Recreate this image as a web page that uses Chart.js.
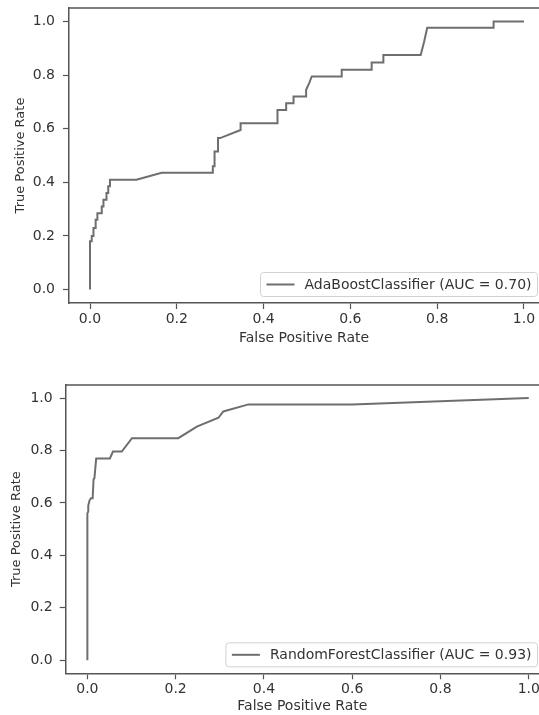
<!DOCTYPE html>
<html>
<head>
<meta charset="utf-8">
<script src="https://cdn.jsdelivr.net/npm/chart.js@4.4.0/dist/chart.umd.min.js"></script>
<style>
  html, body { margin: 0; padding: 0; background: #fff; }
  body { width: 539px; height: 715px; position: relative; overflow: hidden; }
  .panel { position: absolute; left: 0; }
  canvas { display: block; }
</style>
</head>
<body>
<div class="panel" style="top:0"><canvas id="rocAda" width="539" height="350"></canvas></div>
<div class="panel" style="top:365px"><canvas id="rocRf" width="539" height="350"></canvas></div>
<script>
// ROC curve of the AdaBoost model
const adaLabel = 'AdaBoostClassifier (AUC = 0.70)';
const adaFpr = [0, 0, 0.004, 0.004, 0.008, 0.008, 0.013, 0.013, 0.017, 0.017,
  0.027, 0.027, 0.031, 0.031, 0.038, 0.038, 0.042, 0.042, 0.046, 0.046,
  0.107, 0.165, 0.283, 0.283, 0.287, 0.287, 0.295, 0.295, 0.300, 0.347,
  0.347, 0.432, 0.432, 0.452, 0.452, 0.469, 0.469, 0.498, 0.498, 0.505,
  0.511, 0.580, 0.580, 0.649, 0.649, 0.676, 0.676, 0.762, 0.766, 0.770,
  0.777, 0.930, 0.930, 1.0];
const adaTpr = [0, 0.18, 0.18, 0.20, 0.20, 0.23, 0.23, 0.26, 0.26, 0.285,
  0.285, 0.31, 0.31, 0.335, 0.335, 0.36, 0.36, 0.385, 0.385, 0.41,
  0.41, 0.436, 0.436, 0.46, 0.46, 0.515, 0.515, 0.565, 0.565, 0.595,
  0.62, 0.62, 0.67, 0.67, 0.695, 0.695, 0.72, 0.72, 0.745, 0.77,
  0.795, 0.795, 0.82, 0.82, 0.847, 0.847, 0.875, 0.875, 0.90, 0.925,
  0.976, 0.976, 1.0, 1.0];

// ROC curve of the random forest model
const rfLabel = 'RandomForestClassifier (AUC = 0.93)';
const rfFpr = [0, 0, 0.002, 0.002, 0.005, 0.008, 0.012, 0.014, 0.016, 0.020,
  0.051, 0.058, 0.078, 0.101, 0.206, 0.248, 0.297, 0.308, 0.365, 0.60, 1.0];
const rfTpr = [0, 0.56, 0.567, 0.59, 0.61, 0.618, 0.618, 0.69, 0.695, 0.77,
  0.77, 0.796, 0.796, 0.847, 0.847, 0.891, 0.925, 0.949, 0.976, 0.976, 1.0];

const tickValues = [0, 0.2, 0.4, 0.6, 0.8, 1.0];

const FONT = '"DejaVu Sans", "Liberation Sans", sans-serif';
const TEXT = '#333';
const FRAME = '#555';
const LINE = '#6e6e6e';

// top edge of the axes box plus the matplotlib-style legend in the lower right
const rocFrame = {
  id: 'rocFrame',
  afterDraw(chart) {
    const { ctx, chartArea: a } = chart;
    ctx.save();
    ctx.strokeStyle = FRAME;
    ctx.lineWidth = 1.5;
    ctx.beginPath();
    ctx.moveTo(a.left, a.top);
    ctx.lineTo(a.right, a.top);
    ctx.stroke();

    const ds = chart.data.datasets[0];
    ctx.font = '14px ' + FONT;
    const tw = ctx.measureText(ds.label).width;
    const h = 24, w = 6 + 28 + 10 + tw + 6;
    const x = a.right - 1.5 - w, y = a.bottom - 6.5 - h;
    ctx.beginPath();
    ctx.roundRect(x, y, w, h, 3);
    ctx.fillStyle = 'rgba(255,255,255,0.9)';
    ctx.fill();
    ctx.strokeStyle = '#d2d2d2';
    ctx.lineWidth = 1;
    ctx.stroke();
    ctx.beginPath();
    ctx.moveTo(x + 6, y + h / 2);
    ctx.lineTo(x + 34, y + h / 2);
    ctx.strokeStyle = ds.borderColor;
    ctx.lineWidth = 2;
    ctx.stroke();
    ctx.fillStyle = TEXT;
    ctx.textBaseline = 'middle';
    ctx.fillText(ds.label, x + 44, y + h / 2 + 1);
    ctx.restore();
  }
};

function setTicks(scale) {
  scale.ticks = tickValues.map(v => ({ value: v }));
}

function renderRoc(canvasId, fpr, tpr, label, g) {
  const ctx = document.getElementById(canvasId);
  return new Chart(ctx, {
    type: 'scatter',
    data: {
      datasets: [{
        label: label,
        data: fpr.map((x, i) => ({ x: x, y: tpr[i] })),
        showLine: true,
        borderColor: LINE,
        borderWidth: 2,
        pointRadius: 0,
        tension: 0,
        fill: false
      }]
    },
    options: {
      responsive: false,
      animation: false,
      devicePixelRatio: 1,
      layout: { padding: { top: g.top, left: 0, right: 0, bottom: 0 } },
      plugins: { legend: { display: false }, tooltip: { enabled: false } },
      scales: {
        x: {
          type: 'linear',
          min: g.xMin,
          max: g.xMax,
          afterBuildTicks: setTicks,
          afterFit: s => { s.height = g.xAxisH; s.paddingLeft = 0; s.paddingRight = 0; },
          grid: { drawOnChartArea: false, tickLength: 6, tickColor: FRAME, tickWidth: 1.2 },
          border: { display: true, color: FRAME, width: 1.5 },
          ticks: {
            autoSkip: false, maxRotation: 0, padding: 2,
            color: TEXT, font: { family: FONT, size: 14 },
            callback: v => v.toFixed(1)
          },
          title: {
            display: true, text: 'False Positive Rate', color: TEXT,
            font: { family: FONT, size: 14 }, padding: { top: 0, bottom: g.xTitlePad }
          }
        },
        y: {
          type: 'linear',
          min: -0.05,
          max: 1.05,
          afterBuildTicks: setTicks,
          afterFit: s => { s.width = g.yAxisW; s.paddingTop = 0; s.paddingBottom = 0; },
          grid: { drawOnChartArea: false, tickLength: 6, tickColor: FRAME, tickWidth: 1.2 },
          border: { display: true, color: FRAME, width: 1.5 },
          ticks: {
            autoSkip: false, padding: g.yTickPad,
            color: TEXT, font: { family: FONT, size: 14 },
            callback: v => v.toFixed(1)
          },
          title: {
            display: true, text: 'True Positive Rate', color: TEXT,
            font: { family: FONT, size: 13 }, padding: { top: g.yTitlePad, bottom: 0 }
          }
        }
      }
    },
    plugins: [rocFrame]
  });
}

renderRoc('rocAda', adaFpr, adaTpr, adaLabel,
  { top: 8, xAxisH: 47, yAxisW: 69, xMin: -0.0484, xMax: 1.0346, xTitlePad: 3, yTitlePad: 12.5, yTickPad: 8 });
renderRoc('rocRf', rfFpr, rfTpr, rfLabel,
  { top: 20, xAxisH: 41.7, yAxisW: 65.7, xMin: -0.0491, xMax: 1.0232, xTitlePad: 0, yTitlePad: 8.5, yTickPad: 7 });
</script>
</body>
</html>
